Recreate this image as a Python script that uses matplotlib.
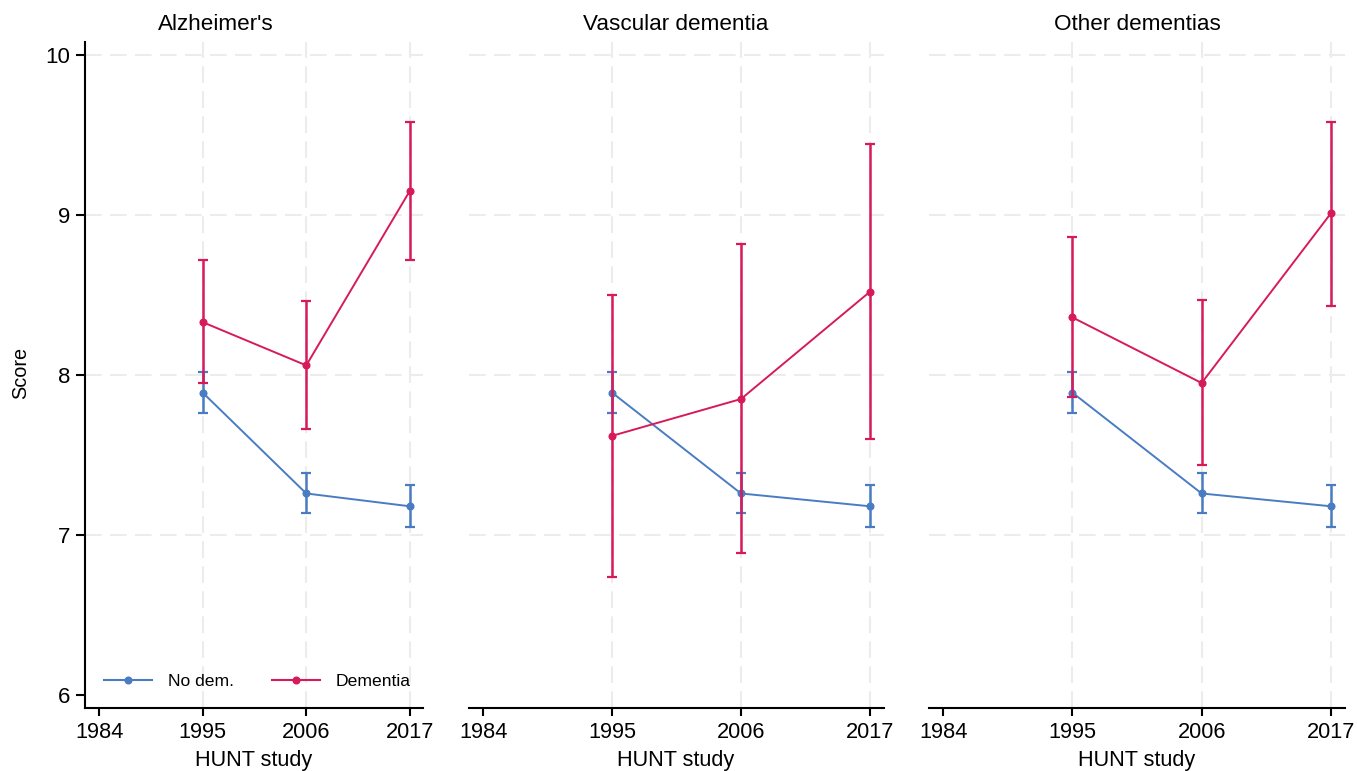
import matplotlib
matplotlib.use("Agg")
import matplotlib.pyplot as plt
from matplotlib.lines import Line2D

plt.rcParams['font.family'] = ['Liberation Sans', 'DejaVu Sans']

# data
years = [1995, 2006, 2017]
panels = ["Alzheimer's", "Vascular dementia", "Other dementias"]

nodem = [7.89, 7.26, 7.18]
nodem_lo = [7.76, 7.14, 7.05]
nodem_hi = [8.02, 7.39, 7.31]

dem = [[8.33, 8.06, 9.15],
       [7.62, 7.85, 8.52],
       [8.36, 7.95, 9.01]]
dem_lo = [[7.95, 7.66, 8.72],
          [6.74, 6.89, 7.60],
          [7.86, 7.44, 8.43]]
dem_hi = [[8.72, 8.46, 9.58],
          [8.50, 8.82, 9.44],
          [8.86, 8.47, 9.58]]

xticks = [1984, 1995, 2006, 2017]
yticks = [6, 7, 8, 9, 10]

blue = '#4a7cc3'
red = '#d71a5a'
grid_c = '#ececec'

W, H = 1357, 771
fig = plt.figure(figsize=(W / 100, H / 100), dpi=100)

# pixel extents of each plot region (left, right), top/bottom shared
boxes = [(85, 423), (469, 884), (929, 1345)]
xlims = [(1982.5, 2018.4), (1982.8, 2018.2), (1982.8, 2018.2)]
top_px, bot_px = 42, 708

axes = []
for i, (l, r) in enumerate(boxes):
    ax = fig.add_axes([l / W, (H - bot_px) / H, (r - l) / W, (bot_px - top_px) / H])
    axes.append(ax)
    ax.set_xlim(*xlims[i])
    ax.set_ylim(5.92, 10.08)

    # grid
    for y in [7, 8, 9, 10]:
        ax.axhline(y, color=grid_c, lw=1.5, ls=(0, (8, 4)), zorder=0)
    for x in years:
        ax.axvline(x, color=grid_c, lw=1.5, ls=(0, (8, 4)), zorder=0)

    # no dementia (same in every panel)
    err = [[m - lo for m, lo in zip(nodem, nodem_lo)],
           [hi - m for m, hi in zip(nodem, nodem_hi)]]
    ax.errorbar(years, nodem, yerr=err, color=blue, lw=1.4, elinewidth=1.8,
                capsize=3.6, capthick=1.6, marker='o', ms=4.8, zorder=2)
    # dementia
    err = [[m - lo for m, lo in zip(dem[i], dem_lo[i])],
           [hi - m for m, hi in zip(dem[i], dem_hi[i])]]
    ax.errorbar(years, dem[i], yerr=err, color=red, lw=1.4, elinewidth=1.8,
                capsize=3.6, capthick=1.6, marker='o', ms=4.8, zorder=3)

    for s in ['top', 'right']:
        ax.spines[s].set_visible(False)
    ax.spines['bottom'].set_linewidth(1.5)
    ax.set_xticks(xticks)
    ax.tick_params(axis='x', labelsize=15.7, width=1.5, length=6, pad=4)
    if i == 0:
        ax.spines['left'].set_linewidth(1.5)
        ax.set_yticks(yticks)
        ax.tick_params(axis='y', labelsize=16, width=1.5, length=6.5, pad=4)
    else:
        ax.spines['left'].set_visible(False)
        ax.set_yticks([])

# panel titles and axis titles
title_x = [216, 676, 1137]
xlab_x = [254, 676, 1137]
for i in range(3):
    fig.text(title_x[i] / W, 1 - 30 / H, panels[i], ha='center', va='baseline', fontsize=16.2)
    fig.text(xlab_x[i] / W, 1 - 766 / H, 'HUNT study', ha='center', va='baseline', fontsize=15.6)
fig.text(21 / W, 1 - 373 / H, 'Score', rotation=90, ha='center', va='center', fontsize=14.3)

handles = [Line2D([], [], color=blue, lw=1.5, marker='o', ms=4.8),
           Line2D([], [], color=red, lw=1.5, marker='o', ms=4.8)]
axes[0].legend(handles, ['No dem.', 'Dementia'], loc='lower left', ncol=2, frameon=False,
               fontsize=12.6, handlelength=2.75, columnspacing=2.15, handletextpad=0.9,
               bbox_to_anchor=(0.01, 0.005))

fig.savefig('out.png', dpi=100)
